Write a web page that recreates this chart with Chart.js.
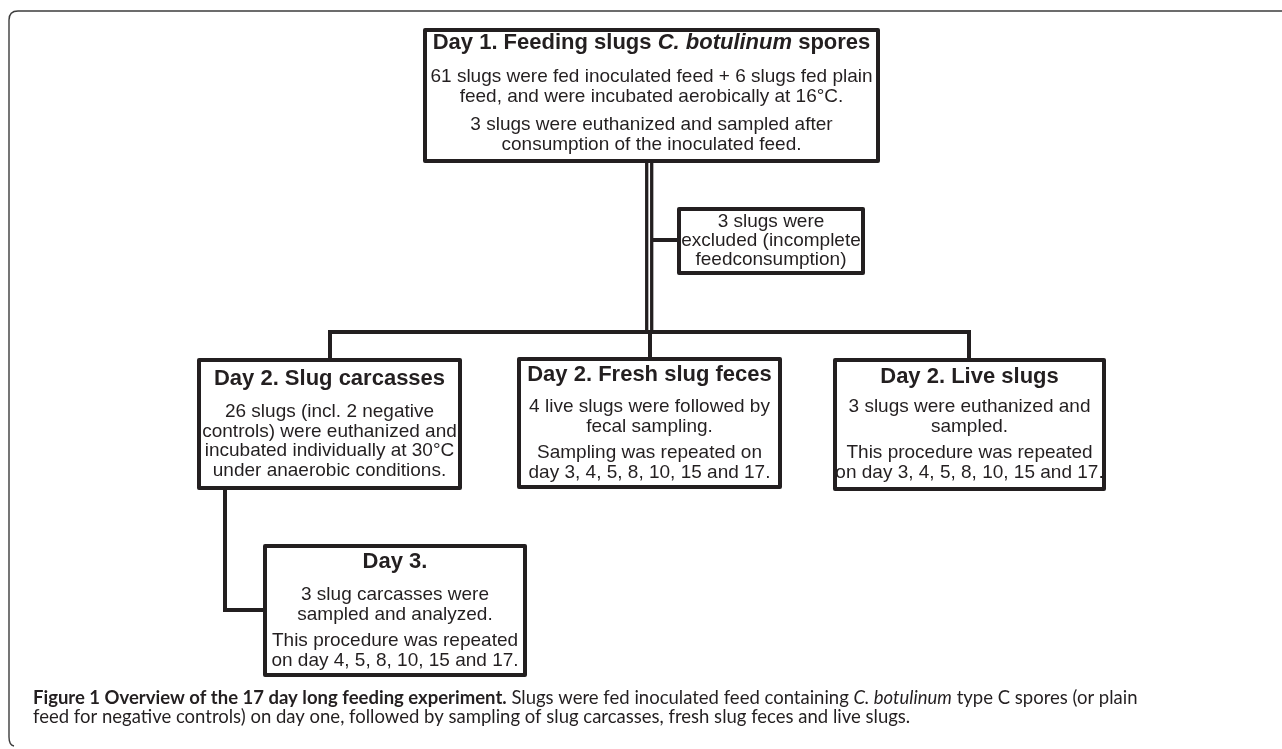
<!DOCTYPE html>
<html>
<head>
<meta charset="utf-8">
<script src="https://cdn.jsdelivr.net/npm/chart.js@4.4.1/dist/chart.umd.min.js"></script>
<style>
  html, body { margin: 0; padding: 0; background: #fff; }
  #wrap { width: 1282px; height: 749px; }
</style>
</head>
<body>
<div id="wrap"><canvas id="flow" width="1282" height="749"></canvas></div>
<script>
// flowchart content
const boxIds = ['feeding', 'excluded', 'carcasses', 'feces', 'live', 'day3'];

// title runs: [text, style]
const boxTitles = [
    [['Day 1. Feeding slugs ', ''], ['C. botulinum', 'italic'], [' spores', '']],
    [],
    [['Day 2. Slug carcasses', '']],
    [['Day 2. Fresh slug feces', '']],
    [['Day 2. Live slugs', '']],
    [['Day 3.', '']]
];

// paragraphs -> lines
const boxParagraphs = [
    [['61 slugs were fed inoculated feed + 6 slugs fed plain', 'feed, and were incubated aerobically at 16\u00B0C.'],
     ['3 slugs were euthanized and sampled after', 'consumption of the inoculated feed.']],
    [['3 slugs were', 'excluded (incomplete', 'feedconsumption)']],
    [['26 slugs (incl. 2 negative', 'controls) were euthanized and', 'incubated individually at 30\u00B0C', 'under anaerobic conditions.']],
    [['4 live slugs were followed by', 'fecal sampling.'],
     ['Sampling was repeated on', 'day 3, 4, 5, 8, 10, 15 and 17.']],
    [['3 slugs were euthanized and', 'sampled.'],
     ['This procedure was repeated', 'on day 3, 4, 5, 8, 10, 15 and 17.']],
    [['3 slug carcasses were', 'sampled and analyzed.'],
     ['This procedure was repeated', 'on day 4, 5, 8, 10, 15 and 17.']]
];

const captionLines = [
    [['Figure 1 Overview of the 17 day long feeding experiment.', 'bold'], [' Slugs were fed inoculated feed containing ', ''],
     ['C. botulinum', 'italic'], [' type C spores (or plain', '']],
    [['feed for negative controls) on day one, followed by sampling of slug carcasses, fresh slug feces and live slugs.', '']]
];

// Layout (in scale units == pixels here)
const LAYOUT = {
    feeding:   { x0: 423, y0: 28,  x1: 880,  y1: 163, title: 15, first: 49, lh: 20, gap: 8 },
    excluded:  { x0: 677, y0: 207, x1: 865,  y1: 275, first: 15, lh: 19 },
    carcasses: { x0: 197, y0: 358, x1: 462,  y1: 490, title: 21, first: 54 },
    feces:     { x0: 517, y0: 357, x1: 782,  y1: 489, title: 18, first: 50 },
    live:      { x0: 833, y0: 358, x1: 1106, y1: 491, title: 19, first: 49 },
    day3:      { x0: 263, y0: 544, x1: 527,  y1: 677, title: 18, first: 51 }
};

const connectors = [
    { pts: [[646.7, 163], [646.7, 332]], w: 3.3 },
    { pts: [[651.7, 163], [651.7, 332]], w: 3.3 },
    { pts: [[328, 332], [971, 332]], w: 4 },
    { pts: [[330, 332], [330, 359]], w: 4 },
    { pts: [[650, 332], [650, 358]], w: 4 },
    { pts: [[969, 332], [969, 359]], w: 4 },
    { pts: [[652, 240], [678, 240]], w: 4 },
    { pts: [[225, 489], [225, 610], [264, 610]], w: 4 }
];

const INK = '#231f20';
const BOX_FONT = '"Liberation Sans", Arial, Helvetica, sans-serif';
const CAP_FONT = 'Lato, "Open Sans", sans-serif';

function fontFor(style, size, family) {
    let f = '';
    if (style.includes('italic')) f += 'italic ';
    if (style.includes('bold')) f += 'bold ';
    return f + size + 'px ' + family;
}

function runsWidth(ctx, runs, size, family, base) {
    let w = 0;
    runs.forEach(([t, s]) => {
        ctx.font = fontFor(base + ' ' + s, size, family);
        w += ctx.measureText(t).width;
    });
    return w;
}

function drawRuns(ctx, runs, x, y, size, family, base, align) {
    let start = x;
    if (align === 'center') start = x - runsWidth(ctx, runs, size, family, base) / 2;
    ctx.textAlign = 'left';
    ctx.textBaseline = 'middle';
    runs.forEach(([t, s]) => {
        ctx.font = fontFor(base + ' ' + s, size, family);
        ctx.fillText(t, start, y);
        start += ctx.measureText(t).width;
    });
}

const flowPlugin = {
    id: 'flow',
    afterDatasetsDraw(chart) {
        const ctx = chart.ctx;
        const sx = chart.scales.x, sy = chart.scales.y;
        const px = v => sx.getPixelForValue(v);
        const py = v => sy.getPixelForValue(v);

        ctx.save();

        // outer frame (top + left, rounded corners)
        ctx.strokeStyle = '#3c3c3c';
        ctx.lineWidth = 1.4;
        ctx.beginPath();
        ctx.moveTo(px(1282), py(11));
        ctx.lineTo(px(18), py(11));
        ctx.quadraticCurveTo(px(9), py(11), px(9), py(20));
        ctx.lineTo(px(9), py(737));
        ctx.quadraticCurveTo(px(9), py(745), px(14), py(746));
        ctx.stroke();

        // connectors
        ctx.strokeStyle = INK;
        ctx.lineCap = 'butt';
        ctx.lineJoin = 'miter';
        connectors.forEach(c => {
            ctx.lineWidth = c.w;
            ctx.beginPath();
            c.pts.forEach(([x, y], i) => {
                if (i === 0) ctx.moveTo(px(x), py(y));
                else ctx.lineTo(px(x), py(y));
            });
            ctx.stroke();
        });

        // boxes
        boxIds.forEach((id, i) => {
            const b = LAYOUT[id];
            const x0 = px(b.x0) + 2, x1 = px(b.x1) - 2;
            const y0 = py(b.y0) + 2, y1 = py(b.y1) - 2;
            ctx.fillStyle = '#fff';
            ctx.strokeStyle = INK;
            ctx.lineWidth = 4;
            ctx.lineJoin = 'round';
            ctx.beginPath();
            ctx.rect(x0, y0, x1 - x0, y1 - y0);
            ctx.fill();
            ctx.stroke();

            ctx.fillStyle = INK;
            const cx = (px(b.x0) + px(b.x1)) / 2;
            if (boxTitles[i].length) {
                drawRuns(ctx, boxTitles[i], cx, py(b.y0 + b.title), 22, BOX_FONT, 'bold', 'center');
            }
            const lh = b.lh || 19.5, gap = b.gap || 7;
            let y = b.y0 + b.first;
            boxParagraphs[i].forEach((para, pi) => {
                if (pi > 0) y += gap;
                para.forEach(line => {
                    drawRuns(ctx, [[line, '']], cx, py(y), 19, BOX_FONT, '', 'center');
                    y += lh;
                });
            });
        });

        // caption, sized so line 1 spans the figure width
        ctx.fillStyle = INK;
        const w18 = runsWidth(ctx, captionLines[0], 18, CAP_FONT, '');
        const capSize = 18 * (1138 - 33) / w18;
        drawRuns(ctx, captionLines[0], px(33), py(698), capSize, CAP_FONT, '', 'left');
        drawRuns(ctx, captionLines[1], px(33), py(717), capSize, CAP_FONT, '', 'left');

        ctx.restore();
    }
};

new Chart(document.getElementById('flow').getContext('2d'), {
    type: 'scatter',
    data: { datasets: [{ data: [], pointRadius: 0 }] },
    options: {
        responsive: false,
        animation: false,
        devicePixelRatio: 1,
        layout: { padding: 0 },
        plugins: { legend: { display: false }, tooltip: { enabled: false } },
        scales: {
            x: { type: 'linear', min: 0, max: 1282, display: false },
            y: { type: 'linear', min: 0, max: 749, reverse: true, display: false }
        }
    },
    plugins: [flowPlugin]
});
</script>
</body>
</html>
